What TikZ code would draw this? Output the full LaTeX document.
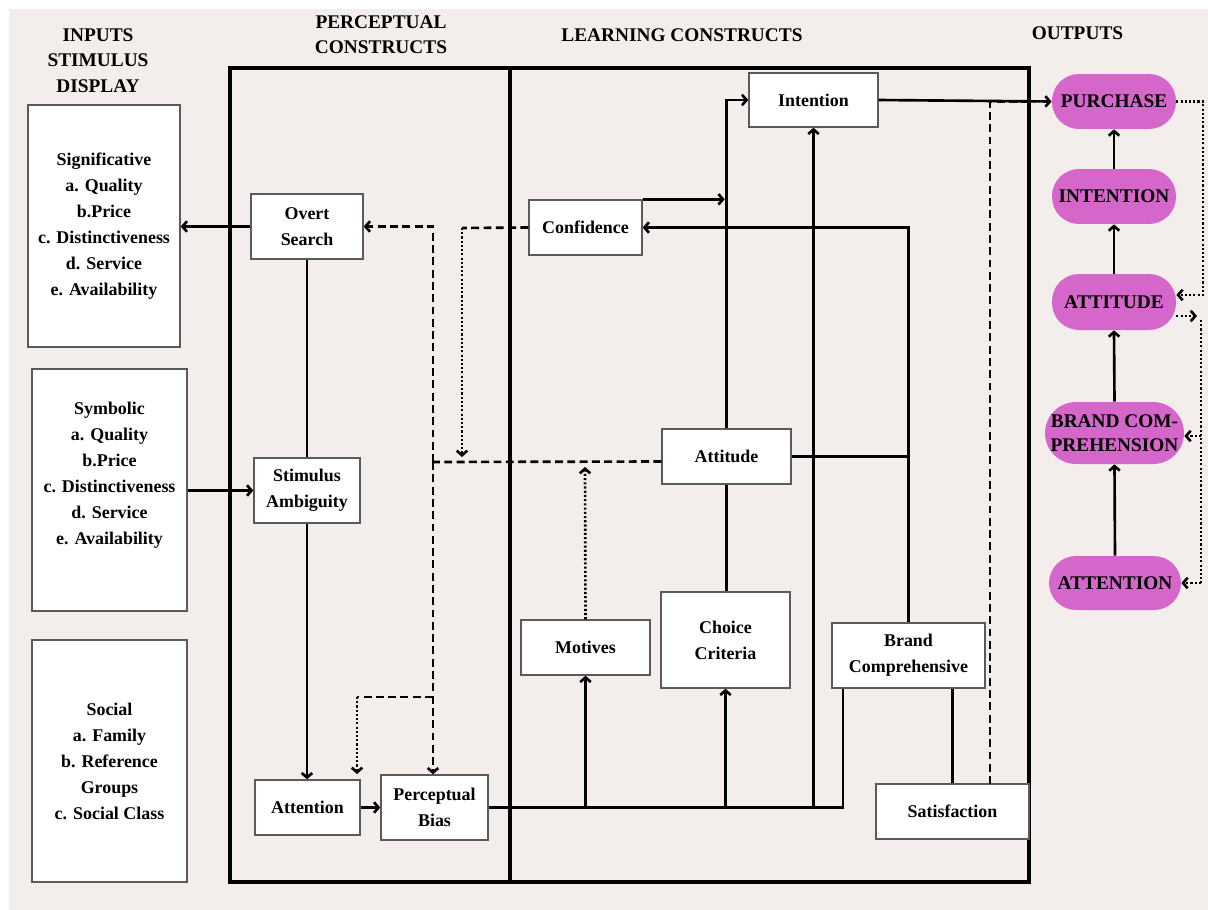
\documentclass[tikz,border=0pt]{standalone}
\usepackage{fontspec}
\setmainfont{Liberation Serif}
\usetikzlibrary{arrows.meta,calc}
\definecolor{bgc}{RGB}{243,238,236}
\definecolor{pillc}{RGB}{213,102,202}
\definecolor{bord}{RGB}{90,90,90}
\begin{document}
\begin{tikzpicture}[x=0.02cm,y=-0.02cm,
 txt/.style={font=\fontsize{10.2}{14.8}\selectfont\bfseries, align=center},
 hdr/.style={font=\fontsize{11}{14.5}\selectfont\bfseries, align=center, inner sep=0pt},
 box/.style={txt, draw=bord, line width=0.8pt, fill=white, inner sep=0pt},
 pillbox/.style={font=\fontsize{11}{13.6}\selectfont\bfseries, align=center, fill=pillc, rounded corners=0.54cm, inner sep=0pt},
 ln/.style={line width=1.5pt},
 arr/.style={ln,-{Straight Barb[length=2.6pt,width=6pt]}},
 dsh/.style={ln,dash pattern=on 4.5pt off 2.5pt},
 dot/.style={ln,dash pattern=on 1.2pt off 1.2pt},
 frame/.style={line width=1.8pt}]
\useasboundingbox (0,0) rectangle (1208,910);
\fill[bgc] (9,9) rectangle (1208,910);

% headers
\node[hdr] at (98,60.5) {INPUTS\\STIMULUS\\DISPLAY};
\node[hdr] at (381,34.5) {PERCEPTUAL\\CONSTRUCTS};
\node[hdr] at (682,35) {LEARNING CONSTRUCTS};
\node[hdr] at (1077.5,33) {OUTPUTS};

% frames
\draw[frame] (230,68) rectangle (1029,882);
\draw[frame] (510,68) -- (510,882);

% input boxes
\node[box, minimum width=3.04cm, minimum height=4.84cm] (b1) at (104,226) {Significative\\a. Quality\\b.Price\\c. Distinctiveness\\d. Service\\e. Availability};
\node[box, minimum width=3.10cm, minimum height=4.84cm] (b2) at (109.5,490) {};
\node[txt] (b2t) at (109.5,475) {Symbolic\\a. Quality\\b.Price\\c. Distinctiveness\\d. Service\\e. Availability};
\node[box, minimum width=3.10cm, minimum height=4.84cm] (b3) at (109.5,761) {Social\\a. Family\\b. Reference\\Groups\\c. Social Class};

% perceptual
\node[box, minimum width=2.24cm, minimum height=1.30cm] (os) at (307,226.5) {Overt\\Search};
\node[box, minimum width=2.12cm, minimum height=1.30cm] (sa) at (307,490.5) {Stimulus\\Ambiguity};
\node[box, minimum width=2.10cm, minimum height=1.10cm] (att) at (307.5,807.5) {Attention};
\node[box, minimum width=2.14cm, minimum height=1.30cm] (pb) at (434.5,807.5) {Perceptual\\Bias};

% learning
\node[box, minimum width=2.26cm, minimum height=1.10cm] (cf) at (585.5,227.5) {Confidence};
\node[box, minimum width=2.58cm, minimum height=1.08cm] (in) at (813.5,100) {Intention};
\node[box, minimum width=2.58cm, minimum height=1.10cm] (at) at (726.5,456.5) {Attitude};
\node[box, minimum width=2.58cm, minimum height=1.10cm] (mo) at (585.5,647.5) {Motives};
\node[box, minimum width=2.58cm, minimum height=1.92cm] (cc) at (725.5,640) {Choice\\Criteria};
\node[box, minimum width=3.06cm, minimum height=1.30cm] (bc) at (908.5,655.5) {Brand\\Comprehensive};
\node[box, minimum width=3.06cm, minimum height=1.10cm] (sat) at (952.5,811.5) {Satisfaction};

% outputs
\node[pillbox, minimum width=2.48cm, minimum height=1.10cm] (pu) at (1114,101.5) {PURCHASE};
\node[pillbox, minimum width=2.48cm, minimum height=1.10cm] (oi) at (1114,196.5) {INTENTION};
\node[pillbox, minimum width=2.48cm, minimum height=1.12cm] (oa) at (1114,302) {ATTITUDE};
\node[pillbox, minimum width=2.78cm, minimum height=1.24cm, rounded corners=0.62cm] (ob) at (1114.5,433) {BRAND COM-\\PREHENSION};
\node[pillbox, minimum width=2.64cm, minimum height=1.08cm] (oe) at (1115,583) {ATTENTION};

% coordinates
\coordinate (j1) at (843,807.5);
\coordinate (dA) at (433,462);
\coordinate (dB) at (433,697);
\coordinate (dC) at (357,697);
\coordinate (dCe) at (357,774);
\coordinate (cA) at (462,228);
\coordinate (cAe) at (462,457);
\coordinate (mAe) at (585,467);
\coordinate (sA) at (990,784);
\coordinate (sB) at (990,102);
\coordinate (sC) at (1035,102);
\coordinate (pA) at (1203,101.5);
\coordinate (pB) at (1203,295);
\coordinate (qA) at (1197,316);
\coordinate (qB) at (1201,320);
\coordinate (qC) at (1201,583);
\coordinate (qD) at (1201,436);

% perceptual connectors
\draw[arr] (os.west) -- (os.west -| b1.east);
\draw[ln] (os.south) -- (sa.north);
\draw[arr] (sa.south) -- (sa.south |- att.north);
\draw[arr] (b2.east |- sa.west) -- (sa.west);
\draw[arr] (att.east) -- (pb.west);

% bias bus
\draw[ln] (pb.east) -- (j1) -- (j1 |- bc.south);
\draw[arr] (mo.south |- j1) -- (mo.south);
\draw[arr] (cc.south |- j1) -- (cc.south);
\draw[arr] (in.south |- j1) -- (in.south);

% learning connectors
\draw[ln] (bc.south -| sat.north) -- (sat.north);
\draw[arr] (bc.north) -- (bc.north |- cf.east) -- (cf.east);
\draw[ln] (at.east) -- (at.east -| bc.north);
\draw[arr] (at.north) -- (at.north |- in.west) -- (in.west);
\draw[arr] (cf.north east) -- ([xshift=-1pt]cf.north east -| at.north);
\draw[ln] (at.south) -- (at.south |- cc.north);
\draw[arr] (in.east) -- (pu.west);
\draw[dsh] (sA) -- (sB) -- (sC);

% dashed / dotted feedback
\draw[dsh] ([yshift=-0.1cm]at.west) -- (dA);
\draw[dsh,arr] (dA) -- (dA |- os.east) -- (os.east);
\draw[dsh,arr] (dA) -- (dA |- pb.north);
\draw[dsh] (dB) -- (dC);
\draw[dot,arr] (dC) -- (dCe);
\draw[dsh] (cf.west) -- (cA);
\draw[dot,arr] (cA) -- (cAe);
\draw[dot,arr] (mo.north) -- (mAe);

% outputs connectors
\draw[arr] (oe.north) -- (ob.south);
\draw[arr] (ob.north) -- (oa.south);
\draw[arr] (oa.north) -- (oi.south);
\draw[arr] (oi.north) -- (pu.south);
\draw[dot,arr] (pu.east) -- (pA) -- (pB) -- (pB -| oa.east);
\draw[dot,arr] (qA -| oa.east) -- (qA);
\draw[dot] (qB) -- (qC);
\draw[dot,arr] (qC) -- (qC -| oe.east);
\draw[dot,arr] (qD) -- (qD -| ob.east);
\end{tikzpicture}
\end{document}
